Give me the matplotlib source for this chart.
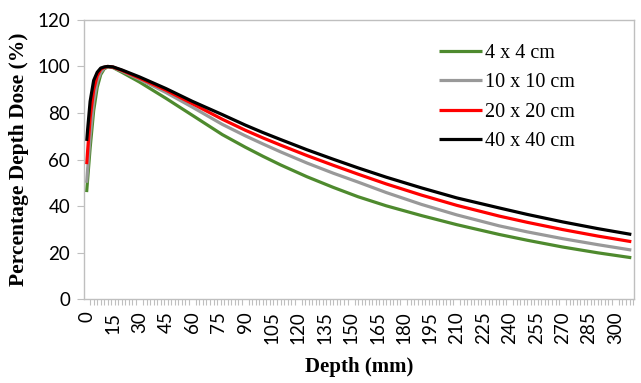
# Percentage depth dose curves for four field sizes
import matplotlib.pyplot as plt
from matplotlib.ticker import MultipleLocator

depth = [0, 2, 4, 6, 8, 10, 12, 15, 20, 30, 45, 60, 77, 90, 100, 110, 125, 140,
         154, 170, 190, 210, 234, 250, 270, 290, 309]

pdd_4 = [46, 65, 81, 91, 96.5, 99, 99.8, 99.5, 97.5, 93.3, 86.3, 79, 70.7, 65.3, 61.4, 57.7,
         52.6, 48, 44, 40.1, 35.9, 32, 27.8, 25.3, 22.4, 19.9, 17.8]
pdd_10 = [50, 70, 85, 93.5, 97.5, 99.3, 99.9, 99.6, 98, 94.5, 88.8, 82.5, 75.1, 70.2, 66.7, 63.3,
          58.5, 54.1, 50.3, 45.8, 40.7, 36.2, 31.5, 28.9, 26, 23.4, 21.1]
pdd_20 = [58, 78, 90, 96, 98.8, 99.6, 100, 99.7, 98.3, 95, 89.8, 84, 77.3, 72.6, 69.3, 66.2,
          61.7, 57.5, 53.7, 49.5, 44.7, 40.3, 35.7, 33, 29.9, 27.1, 24.7]
pdd_40 = [68, 85, 94, 97.5, 99.3, 99.8, 100, 99.8, 98.5, 95.5, 90.5, 85, 79.3, 74.8, 71.6, 68.6,
          64.2, 60.1, 56.4, 52.4, 47.8, 43.5, 39.2, 36.4, 33.2, 30.3, 27.8]

labels = ['4 x 4 cm', '10 x 10 cm', '20 x 20 cm', '40 x 40 cm']
colors = ['#4E8A2E', '#999999', '#FF0000', '#000000']
xtick_labels = list(range(0, 301, 15))
ytick_labels = list(range(0, 121, 20))

fig = plt.figure(figsize=(6.41, 3.83), dpi=100)
ax = fig.add_axes([0.131, 0.219, 0.858, 0.729])

for vals, lab, col in zip([pdd_4, pdd_10, pdd_20, pdd_40], labels, colors):
    ax.plot(depth, vals, color=col, linewidth=2.3, label=lab, solid_capstyle='butt')

ax.set_xlim(-1.5, 310.5)
ax.set_ylim(0, 120)

ax.set_xticks(xtick_labels)
ax.xaxis.set_minor_locator(MultipleLocator(2))
ax.set_yticks(ytick_labels)

axis_gray = '#BFBFBF'
for sp in ax.spines.values():
    sp.set_color(axis_gray)
    sp.set_linewidth(1.0)

ax.tick_params(axis='x', which='major', length=0, pad=9, labelrotation=90,
               labelsize=13.5)
ax.tick_params(axis='x', which='minor', length=4, color=axis_gray, width=0.8)
ax.tick_params(axis='y', which='major', length=5, color=axis_gray, width=0.8,
               labelsize=13.5, pad=5)
for t in ax.get_xticklabels() + ax.get_yticklabels():
    t.set_family('Lato')

ax.set_xlabel('Depth (mm)', family='Liberation Serif', fontweight='bold',
              fontsize=15, labelpad=9)
ax.set_ylabel('Percentage Depth Dose (%)', family='Liberation Serif',
              fontweight='bold', fontsize=15.5, labelpad=6)

ax.legend(loc='upper left', bbox_to_anchor=(0.613, 0.98), frameon=False,
          prop={'family': 'Liberation Serif', 'size': 14.5},
          handlelength=2.1, handletextpad=0.15, labelspacing=0.52)

plt.savefig('out.png', dpi=100)
